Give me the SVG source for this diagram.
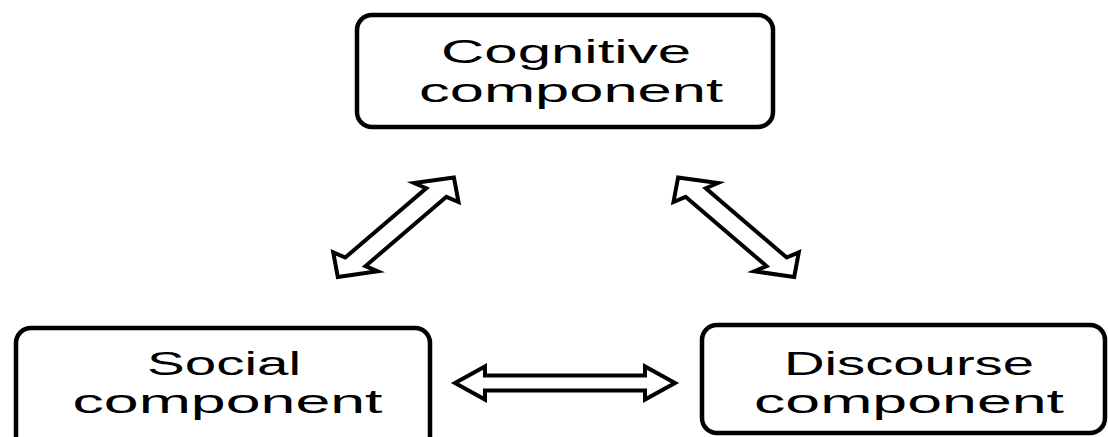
<svg xmlns="http://www.w3.org/2000/svg" width="1108" height="437" viewBox="0 0 1108 437">
<style>
.box{fill:#fff;stroke:#000;stroke-width:4.5}
.lbl{font-family:"Liberation Sans",Arial,sans-serif;font-size:33.5px;fill:#000;text-anchor:middle}
.arr{fill:#fff;stroke:#000;stroke-width:4;stroke-linejoin:miter;stroke-miterlimit:10}
</style>
<rect width="1108" height="437" fill="#fff"/>
<g id="connectors">
<polygon class="arr" points="337.8,276.9 377.6,271.3 365.5,266.1 446.4,196.8 458.5,202.0 453.9,177.4 414.1,183.0 426.2,188.2 345.3,257.5 333.2,252.3"/>
<polygon class="arr" points="794.2,276.9 754.4,271.3 766.5,266.1 685.6,196.8 673.5,202.0 678.1,177.4 717.9,183.0 705.8,188.2 786.7,257.5 798.8,252.3"/>
<polygon class="arr" points="455,383 485,366.5 485,375.5 645,375.5 645,366.5 675,383 645,399.5 645,390.5 485,390.5 485,399.5"/>
</g>
<g id="cognitive">
<rect class="box" x="357" y="15" width="416" height="112" rx="15"/>
<text class="lbl" x="566" y="63" textLength="250" lengthAdjust="spacingAndGlyphs">Cognitive</text>
<text class="lbl" x="571" y="101.5" textLength="304" lengthAdjust="spacingAndGlyphs">component</text>
</g>
<g id="social">
<rect class="box" x="16" y="328" width="414" height="125" rx="15"/>
<text class="lbl" x="224" y="375" textLength="154" lengthAdjust="spacingAndGlyphs">Social</text>
<text class="lbl" x="227.5" y="413" textLength="310" lengthAdjust="spacingAndGlyphs">component</text>
</g>
<g id="discourse">
<rect class="box" x="702" y="325" width="403" height="108" rx="15"/>
<text class="lbl" x="909" y="375" textLength="250" lengthAdjust="spacingAndGlyphs">Discourse</text>
<text class="lbl" x="909" y="413" textLength="310" lengthAdjust="spacingAndGlyphs">component</text>
</g>
</svg>
